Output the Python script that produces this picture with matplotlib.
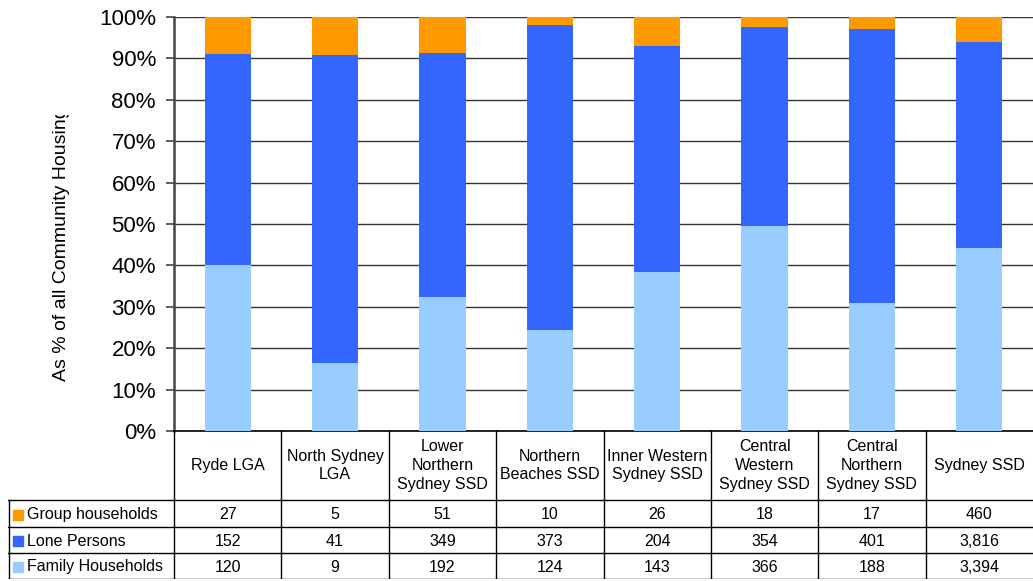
import numpy as np
import matplotlib
matplotlib.use("Agg")
import matplotlib.pyplot as plt
from matplotlib.patches import Rectangle
from matplotlib.transforms import Bbox

plt.rcParams['font.family'] = ['Liberation Sans', 'DejaVu Sans']

# chart data
categories = ["Ryde LGA", "North Sydney\nLGA", "Lower\nNorthern\nSydney SSD",
              "Northern\nBeaches SSD", "Inner Western\nSydney SSD",
              "Central\nWestern\nSydney SSD", "Central\nNorthern\nSydney SSD",
              "Sydney SSD"]
series_names = ["Group households", "Lone Persons", "Family Households"]
group_hh = [27, 5, 51, 10, 26, 18, 17, 460]
lone_persons = [152, 41, 349, 373, 204, 354, 401, 3816]
family_hh = [120, 9, 192, 124, 143, 366, 188, 3394]
colors = ["#FF9900", "#3366FF", "#99CCFF"]

W, H = 1033, 581
fig = plt.figure(figsize=(W / 100, H / 100), dpi=100)

# pixel boxes
ax_left, ax_right, ax_top, ax_bot = 174, 1033, 17, 431
tb_left, tb_bot = 8, 579

ax = fig.add_axes([ax_left / W, 1 - ax_bot / H, (ax_right - ax_left) / W, (ax_bot - ax_top) / H])

g = np.array(group_hh, float)
l = np.array(lone_persons, float)
f = np.array(family_hh, float)
tot = g + l + f
pf, pl, pg = f / tot * 100, l / tot * 100, g / tot * 100

x = np.arange(len(categories))
bw = 0.43
ax.bar(x, pf, bw, color=colors[2], zorder=3)
ax.bar(x, pl, bw, bottom=pf, color=colors[1], zorder=3)
ax.bar(x, pg, bw, bottom=pf + pl, color=colors[0], zorder=3)

ax.set_xlim(-0.5, len(categories) - 0.5)
ax.set_ylim(0, 100)
ax.set_yticks(np.arange(0, 101, 10))
ax.set_yticklabels([f"{v}%" for v in range(0, 101, 10)], fontsize=16)
ax.set_xticks([])
ax.yaxis.grid(True, color="#333333", linewidth=1.0, zorder=0)
ax.tick_params(axis='y', length=6, width=1.2, color="#444444", pad=7)
for s in ["top", "right"]:
    ax.spines[s].set_visible(False)
ax.spines["left"].set_color("#444444")
ax.spines["left"].set_linewidth(1.8)
ax.spines["bottom"].set_color("black")
ax.spines["bottom"].set_linewidth(1.2)

# y axis title, cut off at the top as in the original
ylab = fig.text(62 / W, 1 - 381 / H, "As % of all Community Housing", rotation=90,
                ha="center", va="bottom", fontsize=14)
ylab.set_clip_box(Bbox.from_extents(0, 0, W, H - 115))
ylab.set_clip_on(True)

# data table below, sharing the category x coordinates
unit = (ax_right - ax_left) / len(categories)
xmin = -0.5 - (ax_left - tb_left) / unit
tb = fig.add_axes([tb_left / W, 1 - tb_bot / H, (W - tb_left) / W, (tb_bot - ax_bot) / H])
tb.set_xlim(xmin, len(categories) - 0.5)
tb.set_ylim(tb_bot - ax_bot, 0)
tb.axis("off")

row_y = [0, 69, 96, 122, 148]
lc = "black"
lw = 1.0
# horizontal lines
tb.plot([xmin, len(categories) - 0.5], [row_y[1]] * 2, color=lc, lw=lw)
tb.plot([xmin, len(categories) - 0.5], [row_y[2]] * 2, color=lc, lw=lw)
tb.plot([xmin, len(categories) - 0.5], [row_y[3]] * 2, color=lc, lw=lw)
tb.plot([xmin, len(categories) - 0.5], [row_y[4] - 0.5] * 2, color=lc, lw=lw)
# vertical lines
tb.plot([xmin + 0.005] * 2, [row_y[1], row_y[4]], color=lc, lw=lw)
for i in range(len(categories)):
    tb.plot([i - 0.5] * 2, [0, row_y[4]], color=lc, lw=lw)

for i, c in enumerate(categories):
    tb.text(i, row_y[1] / 2, c, ha="center", va="center", fontsize=11.5, linespacing=1.3)

rows = [group_hh, lone_persons, family_hh]
sq_w = 10 / unit
for r, (name, vals, col) in enumerate(zip(series_names, rows, colors)):
    yc = (row_y[r + 1] + row_y[r + 2]) / 2
    tb.add_patch(Rectangle((xmin + 5 / unit, yc - 5 + 1), sq_w, 10, color=col, clip_on=False))
    tb.text(xmin + 19 / unit, yc + 1, name, ha="left", va="center", fontsize=11.5)
    for i, v in enumerate(vals):
        tb.text(i, yc + 1, f"{v:,}", ha="center", va="center", fontsize=11.5)

fig.savefig("out.png", dpi=100)
